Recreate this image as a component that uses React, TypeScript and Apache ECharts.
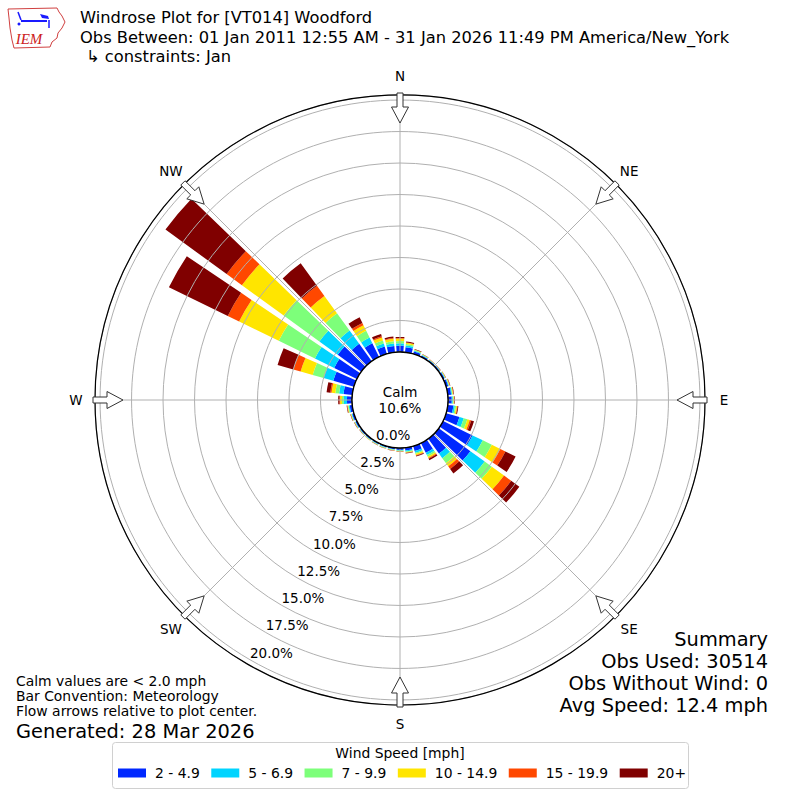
import React, { useEffect, useRef } from "react";
import * as echarts from "echarts";

// ---- data ----
const directions = [
  "0", "10", "20", "30", "40", "50", "60", "70", "80", "90", "100", "110",
  "120", "130", "140", "150", "160", "170", "180", "190", "200", "210", "220", "230",
  "240", "250", "260", "270", "280", "290", "300", "310", "320", "330", "340", "350",
];
const speedBins = ["2 - 4.9", "5 - 6.9", "7 - 9.9", "10 - 14.9", "15 - 19.9", "20+"];
const binColors = ["#0028ff", "#00d4ff", "#7dff7a", "#ffe500", "#ff4800", "#800000"];

// percent of observations per direction, one array per speed bin
const bin2to5 = [0.5, 0.4, 0.2, 0.13, 0.1, 0.1, 0.12, 0.17, 0.27, 0.3, 0.45, 1.1, 2.6, 3.1, 1.45, 0.85, 0.4, 0.22, 0.15, 0.12, 0.11, 0.1, 0.1, 0.1, 0.12, 0.14, 0.2, 0.4, 0.7, 1.7, 2.0, 2.3, 1.7, 1.2, 0.6, 0.5];
const bin5to7 = [0.19, 0.14, 0.06, 0.04, 0.03, 0.03, 0.04, 0.05, 0.07, 0.08, 0.12, 0.35, 0.9, 1.4, 0.45, 0.2, 0.15, 0.08, 0.05, 0.04, 0.04, 0.03, 0.03, 0.03, 0.04, 0.05, 0.08, 0.25, 0.35, 0.8, 1.7, 1.8, 1.3, 0.5, 0.25, 0.2];
const bin7to10 = [0.18, 0.11, 0.05, 0.03, 0.02, 0.02, 0.03, 0.04, 0.05, 0.06, 0.1, 0.3, 0.8, 0.7, 0.5, 0.15, 0.1, 0.06, 0.04, 0.03, 0.03, 0.03, 0.03, 0.03, 0.03, 0.04, 0.06, 0.15, 0.3, 0.9, 3.2, 3.5, 1.7, 0.6, 0.25, 0.18];
const bin10to15 = [0.2, 0.1, 0.04, 0.03, 0.02, 0.02, 0.03, 0.04, 0.05, 0.05, 0.08, 0.2, 0.75, 1.2, 0.3, 0.12, 0.1, 0.05, 0.03, 0.03, 0.02, 0.02, 0.02, 0.02, 0.03, 0.03, 0.05, 0.15, 0.3, 1.0, 3.5, 4.1, 1.7, 0.5, 0.25, 0.2];
const bin15to20 = [0.04, 0.03, 0.02, 0.01, 0.01, 0.01, 0.01, 0.02, 0.02, 0.02, 0.04, 0.12, 0.45, 0.7, 0.26, 0.06, 0.04, 0.02, 0.01, 0.01, 0.01, 0.01, 0.01, 0.01, 0.01, 0.01, 0.02, 0.05, 0.1, 0.6, 1.0, 1.5, 1.0, 0.2, 0.1, 0.05];
const bin20plus = [0.09, 0.07, 0.03, 0.02, 0.02, 0.02, 0.02, 0.03, 0.04, 0.04, 0.06, 0.23, 0.9, 0.8, 0.44, 0.12, 0.06, 0.03, 0.02, 0.02, 0.01, 0.01, 0.01, 0.01, 0.02, 0.03, 0.04, 0.1, 0.3, 1.3, 5.2, 6.0, 2.2, 0.5, 0.2, 0.12];
const binSeries = [bin2to5, bin5to7, bin7to10, bin10to15, bin15to20, bin20plus];

const radiusMax = 20.4;
const radiusStep = 2.5;
const compassLabels = ["N", "NE", "E", "SE", "S", "SW", "W", "NW"];
const compassBearings = [0, 45, 90, 135, 180, 225, 270, 315];

const titleLines = [
  "Windrose Plot for [VT014] Woodford",
  "Obs Between: 01 Jan 2011 12:55 AM - 31 Jan 2026 11:49 PM America/New_York",
  "↳ constraints: Jan",
];
const notesLines = ["Calm values are < 2.0 mph", "Bar Convention: Meteorology", "Flow arrows relative to plot center."];
const generatedText = "Generated: 28 Mar 2026";
const summaryLines = ["Summary", "Obs Used: 30514", "Obs Without Wind: 0", "Avg Speed: 12.4 mph"];
const calmText = ["Calm", "10.6%"];

// ---- layout ----
const CX = 400;
const CY = 400;
const R_IN = 48;
const R_OUT = 305;
const FONT = "DejaVu Sans";

function pt(bearing: number, r: number, lat: number): number[] {
  const t = (bearing * Math.PI) / 180;
  return [CX + r * Math.sin(t) + lat * Math.cos(t), CY - r * Math.cos(t) + lat * Math.sin(t)];
}

const arrowShape = [
  [307, -3],
  [307, 3],
  [293, 3],
  [293, 8.5],
  [277, 0],
  [293, -8.5],
  [293, -3],
];

function txt(x: number, y: number, text: string, size: number, align = "left", extra: any = {}) {
  return {
    type: "text",
    x,
    y,
    z: 100,
    style: {
      text,
      fill: "#000",
      fontSize: size,
      fontFamily: FONT,
      align,
      verticalAlign: "middle",
      textAlign: align,
      textVerticalAlign: "middle",
      ...extra,
    },
  };
}

export default function App() {
  const ref = useRef<HTMLDivElement>(null);

  useEffect(() => {
    document.body.style.margin = "0";
    if (!ref.current) return;
    const chart = echarts.init(ref.current, undefined, { renderer: "svg" });

    const graphics: any[] = [];

    // calm circle (above bars and grid, below radius labels)
    graphics.push({
      type: "circle",
      z: 6.5,
      shape: { cx: CX, cy: CY, r: R_IN },
      style: { fill: "#fff", stroke: "#000", lineWidth: 1.3 },
    });
    graphics.push(txt(CX, CY, calmText.join("\n"), 13.5, "center", { lineHeight: 16 }));

    // flow arrows and compass labels
    compassBearings.forEach((b, i) => {
      graphics.push({
        type: "polygon",
        z: 95,
        shape: { points: arrowShape.map(([r, l]) => pt(b, r, l)) },
        style: { fill: "#fff", stroke: "#333", lineWidth: 1 },
      });
      const p = pt(b, 324, 0);
      graphics.push(txt(p[0], p[1], compassLabels[i], 13.5, "center"));
    });

    // titles
    graphics.push(txt(80, 17.5, titleLines[0], 16.3));
    graphics.push(txt(80, 37, titleLines[1], 16.3));
    graphics.push(txt(86, 56, titleLines[2], 16.3));

    // notes
    graphics.push(txt(16, 696.2, notesLines.join("\n"), 13.9, "left", { lineHeight: 15.2 }));
    graphics.push(txt(16, 731, generatedText, 19.4));
    graphics.push(txt(768, 672.5, summaryLines.join("\n"), 19.4, "right", { lineHeight: 21.7 }));

    // legend box + title
    graphics.push({
      type: "rect",
      z: 1,
      shape: { x: 112.5, y: 742.5, width: 576, height: 46, r: 3 },
      style: { fill: "#fff", stroke: "#d0d0d0", lineWidth: 1 },
    });
    graphics.push(txt(400, 753, "Wind Speed [mph]", 13.9, "center"));

    // logo
    graphics.push({
      type: "polygon",
      z: 100,
      shape: {
        points: [
          [8, 9], [57, 8], [59, 12], [62, 16], [65, 22], [62, 28], [58, 33], [57, 38],
          [52, 42], [50, 47], [14, 48], [12, 40], [10, 28], [9, 18],
        ],
      },
      style: { fill: "#fff", stroke: "#d04040", lineWidth: 1 },
    });
    graphics.push({
      type: "text",
      z: 101,
      x: 29,
      y: 39,
      style: {
        text: "IEM",
        fill: "#cc2020",
        fontSize: 15,
        fontFamily: "Liberation Serif",
        fontStyle: "italic",
        align: "center",
        verticalAlign: "middle",
        textAlign: "center",
        textVerticalAlign: "middle",
      },
    });
    const blue = "#1a1aff";
    graphics.push({ type: "line", z: 101, shape: { x1: 21, y1: 21, x2: 47, y2: 21 }, style: { stroke: blue, lineWidth: 2 } });
    graphics.push({ type: "line", z: 101, shape: { x1: 18, y1: 12, x2: 21, y2: 20 }, style: { stroke: blue, lineWidth: 1.5 } });
    graphics.push({ type: "line", z: 101, shape: { x1: 49, y1: 20, x2: 49, y2: 28 }, style: { stroke: blue, lineWidth: 1.5 } });
    graphics.push({
      type: "polygon",
      z: 101,
      shape: { points: [[40, 14], [48, 16], [49, 19], [42, 18]] },
      style: { fill: blue },
    });
    graphics.push({ type: "circle", z: 101, shape: { cx: 19, cy: 24, r: 1.5 }, style: { fill: blue } });

    const option: any = {
      animation: false,
      backgroundColor: "#fff",
      textStyle: { fontFamily: FONT },
      polar: [
        { center: [CX, CY], radius: [R_IN, R_OUT] },
        { center: [CX, CY], radius: [R_IN, R_OUT] },
        { center: [CX, CY], radius: [R_IN, R_OUT] },
      ],
      angleAxis: [
        {
          polarIndex: 0,
          type: "category",
          data: directions,
          startAngle: 95,
          clockwise: true,
          boundaryGap: true,
          axisLine: { show: false },
          axisTick: { show: false },
          axisLabel: { show: false },
          splitLine: { show: false },
        },
        {
          polarIndex: 1,
          type: "value",
          min: 0,
          max: 360,
          interval: 45,
          startAngle: 90,
          clockwise: true,
          z: 6,
          axisLine: { show: true, lineStyle: { color: "#000", width: 1.2 } },
          axisTick: { show: false },
          axisLabel: { show: false },
          splitLine: { show: true, lineStyle: { color: "#b0b0b0", width: 1 } },
        },
        {
          polarIndex: 2,
          type: "value",
          min: 0,
          max: 360,
          startAngle: 240,
          show: false,
        },
      ],
      radiusAxis: [
        {
          polarIndex: 0,
          type: "value",
          min: 0,
          max: radiusMax,
          interval: radiusStep,
          z: 5,
          axisLine: { show: false },
          axisTick: { show: false },
          axisLabel: { show: false },
          splitLine: { show: true, lineStyle: { color: "#b0b0b0", width: 1 } },
        },
        { polarIndex: 1, type: "value", min: 0, max: 1, show: false },
        {
          polarIndex: 2,
          type: "value",
          min: 0,
          max: radiusMax,
          interval: radiusStep,
          z: 7,
          axisLine: { show: false },
          axisTick: { show: false },
          splitLine: { show: false },
          axisLabel: {
            show: true,
            margin: 0,
            align: "left",
            verticalAlign: "bottom",
            fontSize: 13.5,
            color: "#000",
            fontFamily: FONT,
            formatter: (v: number) =>
              Math.abs(v / radiusStep - Math.round(v / radiusStep)) < 1e-6 ? v.toFixed(1) + "%" : "",
          },
        },
      ],
      legend: {
        data: speedBins,
        left: 118,
        top: 766,
        icon: "rect",
        itemWidth: 28,
        itemHeight: 9,
        itemGap: 11.5,
        padding: 0,
        selectedMode: false,
        z: 10,
        textStyle: { fontSize: 13.9, fontFamily: FONT, color: "#000", padding: [0, 0, 0, 4] },
      },
      graphic: { elements: graphics },
      series: binSeries.map((vals, i) => ({
        name: speedBins[i],
        type: "bar",
        coordinateSystem: "polar",
        polarIndex: 0,
        stack: "total",
        barCategoryGap: "20%",
        z: 2,
        itemStyle: { color: binColors[i] },
        data: vals,
      })),
    };

    chart.setOption(option);
    return () => chart.dispose();
  }, []);

  return <div ref={ref} style={{ width: 800, height: 800 }} />;
}
